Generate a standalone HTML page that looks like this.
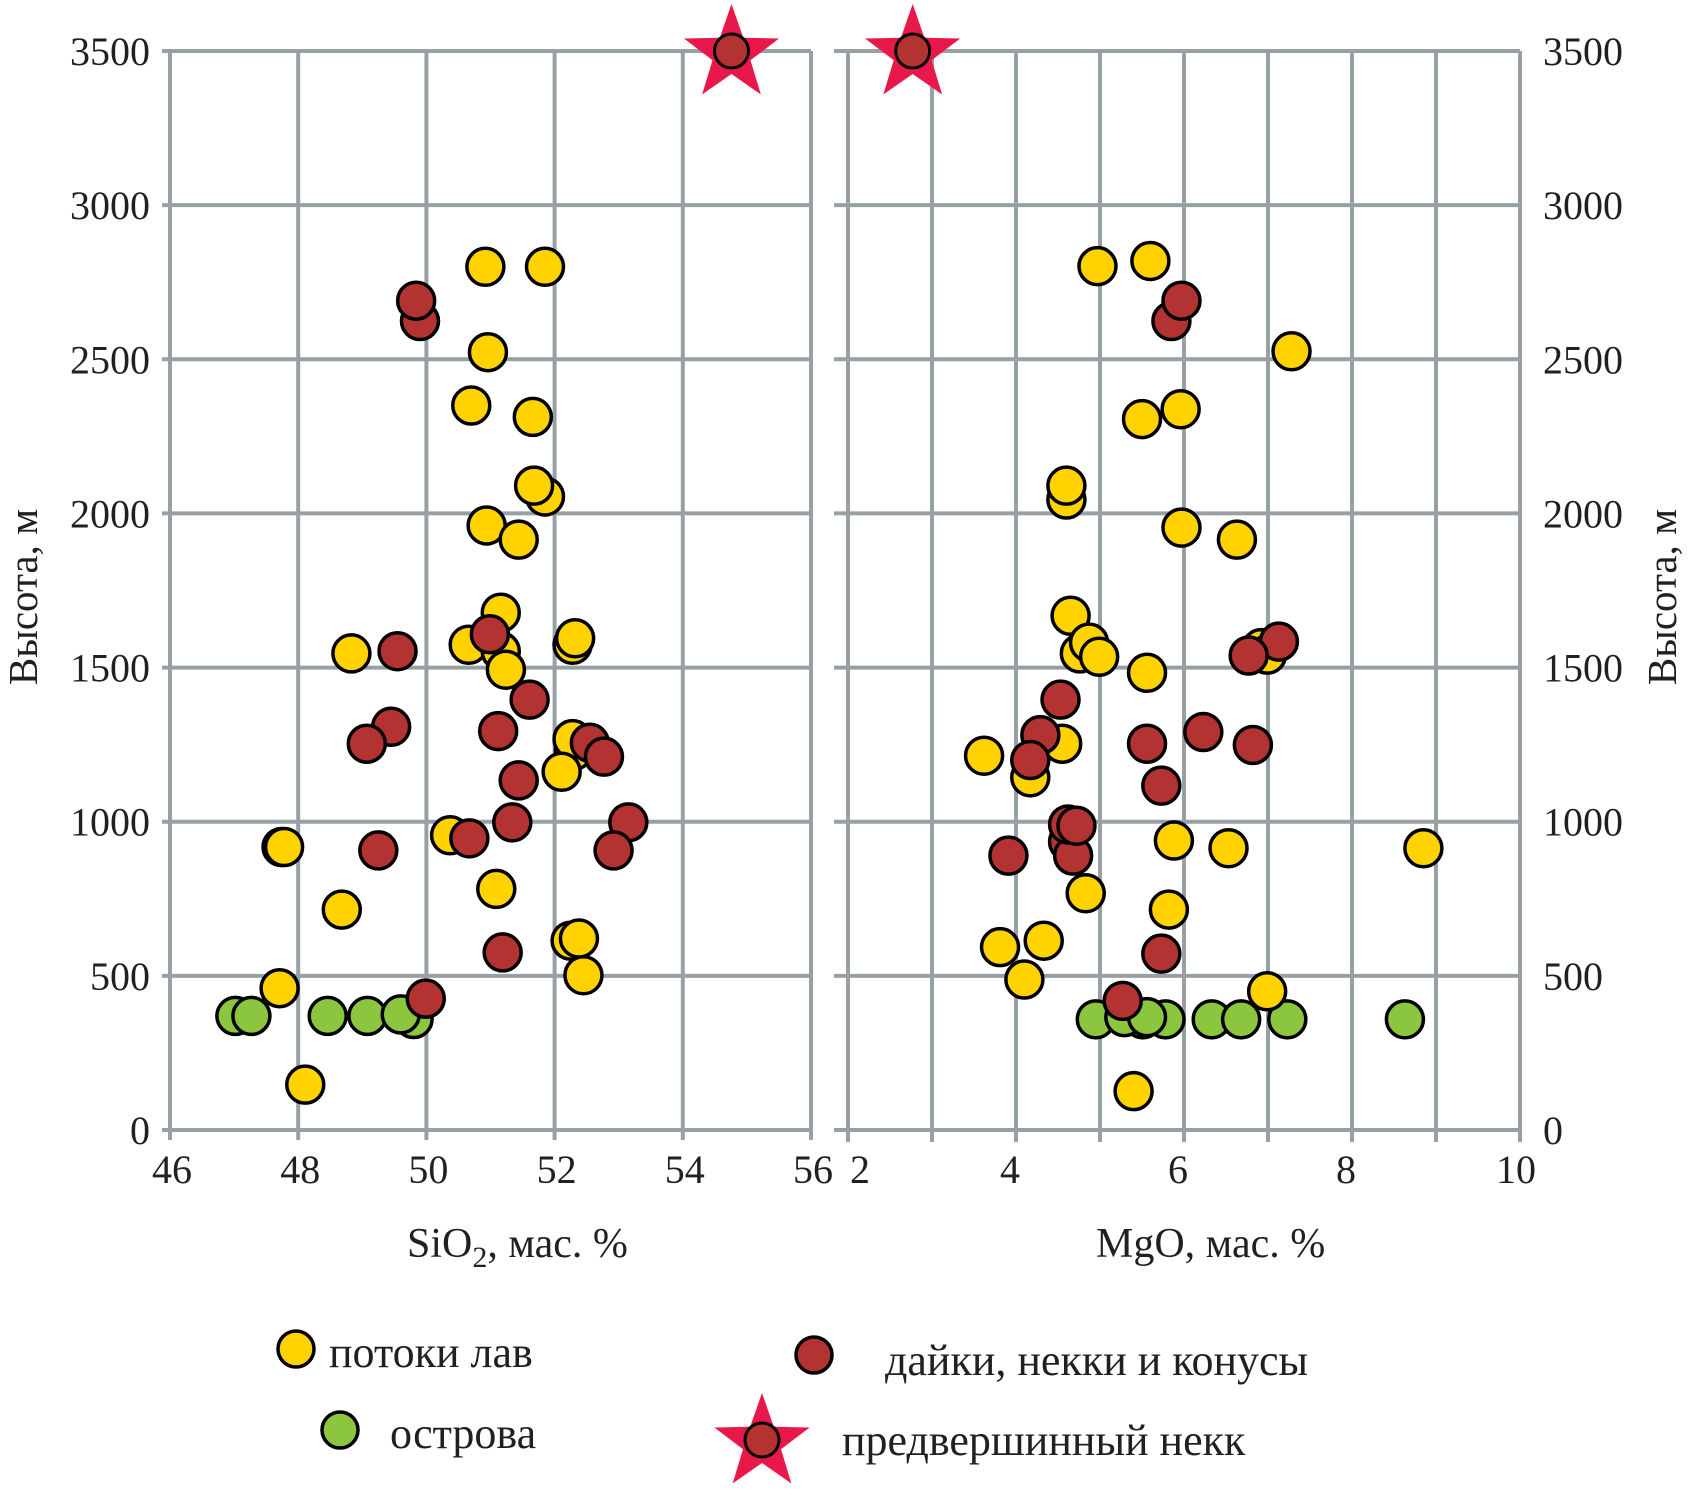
<!DOCTYPE html>
<html><head><meta charset="utf-8">
<style>
html,body{margin:0;padding:0;background:#fff;}
svg{display:block;}
text{font-family:"Liberation Serif","DejaVu Serif",serif;fill:#231f20;}
</style></head>
<body>
<svg id="chart" width="1688" height="1496" viewBox="0 0 1688 1496" xmlns="http://www.w3.org/2000/svg">
<g id="grid"></g>
<g id="marks"></g>
<g id="labels"></g>
<g id="legend">
  <circle cx="296" cy="1349" r="18" fill="#FFD200" stroke="#000" stroke-width="3.5"/>
  <text x="329" y="1367" font-size="44">потоки лав</text>
  <circle cx="340" cy="1430" r="18" fill="#8CC63F" stroke="#000" stroke-width="3.5"/>
  <text x="390" y="1448" font-size="44">острова</text>
  <circle cx="814" cy="1355" r="18" fill="#B33333" stroke="#000" stroke-width="3.5"/>
  <text x="885" y="1375" font-size="44">дайки, некки и конусы</text>
  <g id="legend-star"></g>
  <text x="842" y="1455" font-size="44">предвершинный некк</text>
</g>
</svg>
<script>
// ---- data ----
const yTicks = [0,500,1000,1500,2000,2500,3000,3500];
const siTicks = [46,48,50,52,54,56];
const mgTicks = [2,4,6,8,10];
// SiO2 panel
const siLavaX = [50.92,51.85,50.96,50.70,51.66,51.85,51.68,50.94,51.44,51.16,50.66,51.16,51.24,48.83,52.28,52.32,52.30,52.28,52.11,50.37,47.74,47.78,48.68,51.09,52.25,52.38,52.45,47.71,48.11];
const siLavaH = [2800,2800,2523,2350,2313,2055,2090,1961,1915,1678,1574,1553,1493,1546,1574,1595,1230,1268,1162,956,918,918,715,782,614,621,502,460,147];
const siDikeX = [49.90,49.84,49.55,50.99,51.61,49.45,49.07,51.12,51.44,52.55,52.77,51.34,53.15,50.67,49.25,52.92,51.19,49.99];
const siDikeH = [2624,2690,1553,1608,1396,1308,1253,1294,1134,1256,1211,998,998,946,907,907,576,426];
const siIslX = [47.02,47.27,48.46,49.08,49.80,49.60];
const siIslH = [370,370,370,370,360,375];
const siNeckX = [54.76];
const siNeckH = [3500];
// MgO panel
const mgLavaX = [4.97,5.60,7.28,5.50,5.96,4.60,4.60,5.97,6.63,4.65,4.76,4.87,4.99,5.56,6.92,6.99,3.62,4.55,4.17,5.88,6.53,8.85,4.83,5.82,3.81,4.33,4.10,6.99,5.40];
const mgLavaH = [2802,2819,2526,2306,2338,2045,2090,1954,1915,1668,1546,1581,1535,1483,1563,1542,1214,1253,1144,939,914,914,768,715,593,614,488,450,126];
const mgDikeX = [5.85,5.97,7.13,6.77,4.53,4.29,5.56,6.23,6.82,4.17,5.73,4.62,4.68,4.62,4.72,3.91,5.73,5.27];
const mgDikeH = [2624,2690,1584,1539,1396,1281,1253,1291,1249,1200,1117,935,890,991,987,890,572,419];
const mgIslX = [4.95,5.51,5.29,5.78,5.56,6.33,6.68,7.23,8.63];
const mgIslH = [359,359,366,359,366,359,359,359,359];
const mgNeckX = [2.77];
const mgNeckH = [3500];

// ---- scales ----
const Y0 = 1130, Y1 = 51;
const yS = v => Y0 - (v/3500)*(Y0-Y1);
const siL = 170, siR = 811;
const xSi = v => siL + (v-46)/10*(siR-siL);
const mgL = 848, mgR = 1520;
const xMg = v => mgL + (v-2)/8*(mgR-mgL);

const NS = "http://www.w3.org/2000/svg";
function mk(tag, attrs, parent){
  const e = document.createElementNS(NS, tag);
  for (const k in attrs) e.setAttribute(k, attrs[k]);
  parent.appendChild(e);
  return e;
}
const grid = document.getElementById('grid');
const marks = document.getElementById('marks');
const labels = document.getElementById('labels');
const GC = "#97A0A5", GW = 4;
const XLY = 1183;

// left panel grid
for (const t of yTicks){
  const l = mk('line',{x1:siL-8,x2:siR,y1:yS(t),y2:yS(t),stroke:GC,'stroke-width':GW},grid);
  
  
  const tx = mk('text',{x:150,y:yS(t)+14,'font-size':40,'text-anchor':'end'},labels);
  tx.textContent = t;
  
  
}
for (const t of siTicks){
  const l = mk('line',{x1:xSi(t),x2:xSi(t),y1:Y1,y2:Y0+10,stroke:GC,'stroke-width':GW},grid);
  
  
  const tx = mk('text',{x:xSi(t)+2,y:XLY,'font-size':40,'text-anchor':'middle'},labels);
  tx.textContent = t;
  
  
}
// right panel grid
for (const t of yTicks){
  const l = mk('line',{x1:mgL-14,x2:mgR,y1:yS(t),y2:yS(t),stroke:GC,'stroke-width':GW},grid);
  
  
  const tx = mk('text',{x:1543,y:yS(t)+14,'font-size':40,'text-anchor':'start'},labels);
  tx.textContent = t;
  
  
}
for (let v=2; v<=10; v++){
  const l = mk('line',{x1:xMg(v),x2:xMg(v),y1:Y1,y2:Y0+12,stroke:GC,'stroke-width':GW},grid);
  
  
}
for (const t of mgTicks){
  const tx = mk('text',{x:xMg(t)+(t===2?12:(t===10?-4:-6)),y:XLY,'font-size':40,'text-anchor':'middle'},labels);
  tx.textContent = t;
  
  
}

// axis titles
let at = mk('text',{x:407,y:1257,'font-size':42},labels);
at.innerHTML = 'SiO<tspan font-size="30" dy="10">2</tspan><tspan dy="-10">, мас. %</tspan>';


at = mk('text',{x:1096,y:1257,'font-size':42},labels);
at.textContent = 'MgO, мас. %';


at = mk('text',{x:0,y:0,'font-size':41,'text-anchor':'middle',transform:'translate(37,597) rotate(-90)'},labels);
at.textContent = 'Высота, м';


at = mk('text',{x:0,y:0,'font-size':41,'text-anchor':'middle',transform:'translate(1676,597) rotate(-90)'},labels);
at.textContent = 'Высота, м';



// marks
function dots(xs, hs, xf, fill, name){
  for (let i=0;i<xs.length;i++){
    const c = mk('circle',{cx:xf(xs[i]),cy:yS(hs[i]),r:18.5,fill:fill,stroke:'#000','stroke-width':3.5},marks);
    
    
  }
}
function starPts(cx,cy,R,r){
  const p=[];
  for(let i=0;i<10;i++){
    const a=-Math.PI/2+i*Math.PI/5, rr=i%2?r:R;
    p.push((cx+rr*Math.cos(a)).toFixed(1)+','+(cy+rr*Math.sin(a)).toFixed(1));
  }
  return p.join(' ');
}
function star(cx,cy,parent,name){
  const g = mk('g',{},parent);
  
  
  mk('polygon',{points:starPts(cx,cy+3,50,20),fill:'#E8194A'},g);
  mk('circle',{cx:cx,cy:cy,r:17,fill:'#B33333',stroke:'#000','stroke-width':3},g);
}
dots(siIslX, siIslH, xSi, '#8CC63F', 'si-island-point');
dots(siLavaX, siLavaH, xSi, '#FFD200', 'si-lava-point');
dots(siDikeX, siDikeH, xSi, '#B33333', 'si-dike-point');
for (let i=0;i<siNeckX.length;i++) star(xSi(siNeckX[i]), yS(siNeckH[i]), marks, 'si-neck-star');
dots(mgIslX, mgIslH, xMg, '#8CC63F', 'mg-island-point');
dots(mgLavaX, mgLavaH, xMg, '#FFD200', 'mg-lava-point');
dots(mgDikeX, mgDikeH, xMg, '#B33333', 'mg-dike-point');
for (let i=0;i<mgNeckX.length;i++) star(xMg(mgNeckX[i]), yS(mgNeckH[i]), marks, 'mg-neck-star');
star(762,1440,document.getElementById('legend-star'),'legend-star-shape');
</script>
</body></html>
